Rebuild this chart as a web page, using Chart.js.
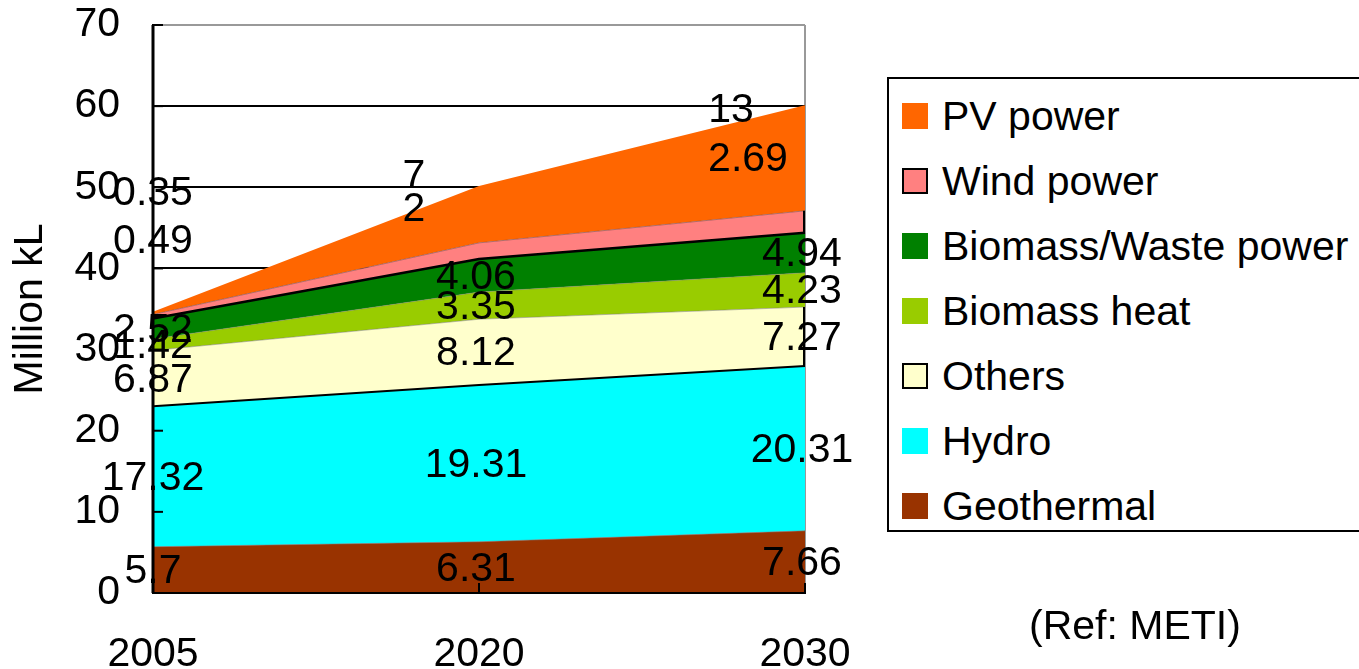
<!DOCTYPE html>
<html>
<head>
<meta charset="utf-8">
<script src="https://cdn.jsdelivr.net/npm/chart.js@4/dist/chart.umd.min.js"></script>
<style>
  html, body { margin: 0; padding: 0; background: #fff; overflow: hidden; }
  body { width: 1359px; height: 669px; position: relative; font-family: "Liberation Sans", Arial, sans-serif; }
  #chart { position: absolute; left: 0; top: 0; }
  #legend {
    position: absolute; left: 887px; top: 77px; width: 520px; height: 455px;
    border: 2px solid #000; box-sizing: border-box; background: #fff;
  }
  .item { position: absolute; left: 13px; height: 40px; display: flex; align-items: center; }
  .swatch { width: 26px; height: 26px; box-sizing: border-box; margin-right: 14px; }
  .item span { font-size: 41px; color: #000; line-height: 40px; white-space: nowrap; }
  #ref { position: absolute; left: 1029px; top: 602px; font-size: 41px; color: #000; line-height: 46px; }
</style>
</head>
<body>
<canvas id="chart" width="1359" height="669"></canvas>
<div id="legend"></div>
<div id="ref">(Ref: METI)</div>
<script>
// Renewable energy supply outlook, million kL (crude oil equivalent)
const years = ['2005', '2020', '2030'];
const geothermal   = [5.7, 6.31, 7.66];
const hydro        = [17.32, 19.31, 20.31];
const others       = [6.87, 8.12, 7.27];
const biomassHeat  = [1.42, 3.35, 4.23];
const biomassWaste = [2.52, 4.06, 4.94];
const windPower    = [0.49, 2, 2.69];
const pvPower      = [0.35, 7, 13];
const yMax = 70;
const yStep = 10;

// Series, bottom of the stack first
const series = [
  { label: 'Geothermal',           data: geothermal,   color: '#993300', edge: 'rgba(120,120,120,0.55)', edgeW: 1, outlined: false },
  { label: 'Hydro',                data: hydro,        color: '#00FFFF', edge: '#000000', edgeW: 2, outlined: false },
  { label: 'Others',               data: others,       color: '#FFFFCC', edge: 'rgba(120,120,120,0.5)', edgeW: 1, outlined: true },
  { label: 'Biomass heat',         data: biomassHeat,  color: '#99CC00', edge: 'rgba(120,120,120,0.5)', edgeW: 1, outlined: false },
  { label: 'Biomass/Waste power',  data: biomassWaste, color: '#008000', edge: '#000000', edgeW: 2.5, outlined: false },
  { label: 'Wind power',           data: windPower,    color: '#FF8080', edge: 'rgba(120,80,80,0.6)', edgeW: 1, outlined: true },
  { label: 'PV power',             data: pvPower,      color: '#FF6600', edge: 'rgba(0,0,0,0)', edgeW: 0, outlined: false }
];

// Small series whose value labels sit above the stack (anchor in axis units, x shift in px)
const raisedLabels = {
  'Wind power': [{ at: 43.6, dx: 0 }, { at: 47.5, dx: -65 }, { at: 53.7, dx: -57 }],
  'PV power':   [{ at: 49.5, dx: 0 }, { at: 51.6, dx: -65 }, { at: 59.7, dx: -74 }]
};

const FONT = '"Liberation Sans", Arial, sans-serif';
const FS = 41;

// HTML legend, top of the stack first
const legendEl = document.getElementById('legend');
series.slice().reverse().forEach((s, i) => {
  const row = document.createElement('div');
  row.className = 'item';
  row.style.top = (17 + i * 65) + 'px';
  const sw = document.createElement('div');
  sw.className = 'swatch';
  sw.style.background = s.color;
  if (s.outlined) sw.style.border = '2px solid #000';
  const tx = document.createElement('span');
  tx.textContent = s.label;
  row.appendChild(sw);
  row.appendChild(tx);
  legendEl.appendChild(row);
});

// Axis lines, inward ticks, outlines and value labels drawn over the areas
const overlay = {
  id: 'overlay',
  afterDatasetsDraw(chart) {
    const ctx = chart.ctx;
    const xs = chart.scales.x, ys = chart.scales.y;
    const area = chart.chartArea;
    ctx.save();

    // cumulative stack bounds
    const bottoms = [], tops = [];
    let run = years.map(() => 0);
    series.forEach((s, k) => {
      bottoms[k] = run.slice();
      run = run.map((v, i) => v + s.data[i]);
      tops[k] = run.slice();
    });

    // right-edge outlines of outlined series
    ctx.strokeStyle = '#000';
    ctx.lineWidth = 2;
    const last = years.length - 1;
    series.forEach((s, k) => {
      if (!s.outlined) return;
      const x = xs.getPixelForValue(last) - 1;
      ctx.beginPath();
      ctx.moveTo(x, ys.getPixelForValue(bottoms[k][last]));
      ctx.lineTo(x, ys.getPixelForValue(tops[k][last]));
      ctx.stroke();
    });

    // axis lines
    ctx.lineWidth = 3;
    ctx.beginPath();
    ctx.moveTo(area.left, area.top);
    ctx.lineTo(area.left, area.bottom);
    ctx.stroke();
    ctx.lineWidth = 2;
    ctx.beginPath();
    ctx.moveTo(area.left, area.bottom);
    ctx.lineTo(area.right, area.bottom);
    ctx.stroke();

    // inward tick marks
    ctx.lineWidth = 2;
    ys.ticks.forEach(t => {
      const y = ys.getPixelForValue(t.value);
      ctx.beginPath();
      ctx.moveTo(area.left, y);
      ctx.lineTo(area.left + 10, y);
      ctx.stroke();
    });
    xs.ticks.forEach((t, i) => {
      const x = xs.getPixelForValue(i);
      ctx.beginPath();
      ctx.moveTo(x, area.bottom);
      ctx.lineTo(x, area.bottom - 10);
      ctx.stroke();
    });

    // value labels
    ctx.fillStyle = '#000';
    ctx.font = FS + 'px ' + FONT;
    ctx.textAlign = 'center';
    ctx.textBaseline = 'middle';
    series.forEach((s, k) => {
      s.data.forEach((v, i) => {
        const raised = raisedLabels[s.label];
        let yv = (bottoms[k][i] + tops[k][i]) / 2;
        let dx = i > 0 ? -3 : 0;
        if (raised) { yv = raised[i].at; dx = raised[i].dx; }
        ctx.fillText(String(v), xs.getPixelForValue(i) + dx, ys.getPixelForValue(yv) + 2);
      });
    });
    ctx.restore();
  }
};

new Chart(document.getElementById('chart'), {
  type: 'line',
  data: {
    labels: years,
    datasets: series.map((s, k) => ({
      label: s.label,
      data: s.data,
      backgroundColor: s.color,
      borderColor: s.edge,
      borderWidth: s.edgeW,
      fill: k === 0 ? 'origin' : '-1',
      pointRadius: 0,
      tension: 0
    }))
  },
  options: {
    responsive: false,
    animation: false,
    devicePixelRatio: 1,
    layout: { padding: { top: 25, right: 554, left: 0, bottom: 0 } },
    plugins: {
      legend: { display: false },
      tooltip: { enabled: false }
    },
    scales: {
      x: {
        offset: false,
        grid: {
          color: c => (c.index === years.length - 1 ? '#999999' : 'rgba(0,0,0,0)'),
          lineWidth: 2,
          drawTicks: false
        },
        border: { color: '#000', width: 2 },
        ticks: { color: '#000', font: { family: FONT, size: FS }, padding: 37, maxRotation: 0, autoSkip: false },
        afterFit: s => { s.height = 76; s.paddingLeft = 0; s.paddingRight = 0; }
      },
      y: {
        stacked: true,
        min: 0,
        max: yMax,
        grid: {
          color: c => (c.tick.value === yMax ? '#999999' : '#000000'),
          lineWidth: 2,
          drawTicks: false
        },
        border: { color: '#000', width: 2 },
        ticks: { stepSize: yStep, color: '#000', font: { family: FONT, size: FS }, padding: 33 },
        title: {
          display: true,
          text: 'Million kL',
          color: '#000',
          font: { family: FONT, size: FS },
          padding: { top: 6, bottom: 0 }
        },
        afterFit: s => { s.width = 153; s.paddingTop = 0; s.paddingBottom = 0; }
      }
    }
  },
  plugins: [overlay]
});
</script>
</body>
</html>
